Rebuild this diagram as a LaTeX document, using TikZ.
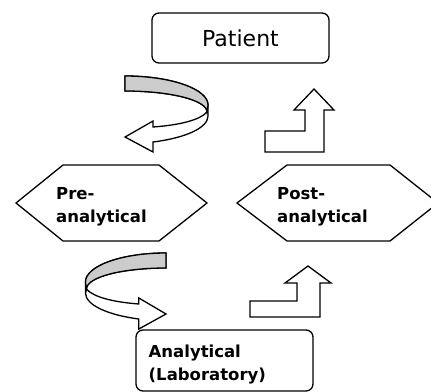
\documentclass[tikz,border=0pt]{standalone}
\usepackage{fontspec}
\newfontfamily\vfont{DejaVu Sans}
\begin{document}
\begin{tikzpicture}[x=1pt,y=-1pt,
  shapeline/.style={draw=black,line width=1.3pt,line join=miter},
  box/.style={shapeline,rounded corners=7pt,fill=white},
  lbl/.style={font={\vfont\bfseries\fontsize{16.5}{23}\selectfont},align=left,anchor=north west,inner sep=0pt},
  curvarrow/.pic={
    \draw[shapeline,fill=white] (0,0) .. controls (46,0) and (83,13) .. (83,29) -- (83,40)
      .. controls (83,52) and (60,62) .. (28,66) -- (28,76) -- (0,61) -- (28,45) -- (28,51)
      .. controls (55,49) and (75,44) .. (82,36)
      .. controls (82,24) and (45,15) .. (0,15) -- cycle;
    \draw[shapeline,fill=black!20] (0,0) .. controls (46,0) and (83,13) .. (83,29) -- (82,36)
      .. controls (82,24) and (45,15) .. (0,15) -- cycle;
  }]
\useasboundingbox (0,0) rectangle (431,391);
% Patient box
\node[box,minimum width=177pt,minimum height=50pt,inner sep=0pt,
  font={\vfont\fontsize{22}{26}\selectfont}] (patient) at (240.5,38) {Patient};
% hexagons
\coordinate (prec) at (111.5,203);
\coordinate (postc) at (337.5,203);
\draw[shapeline] (16,203) -- (63,165) -- (159,165) -- (207,203) -- (159,241) -- (63,241) -- cycle;
\draw[shapeline] (237,203) -- (287,165) -- (390,165) -- (438,203) -- (390,241) -- (287,241) -- cycle;
\node[lbl] (pre) at (56,187.5) {Pre-\\analytical};
\node[lbl] (post) at (277,187.5) {Post-\\analytical};
% Analytical box
\node[box,minimum width=177pt,minimum height=61pt,inner sep=0pt] (lab) at (224.5,360.5) {};
\node[lbl] (labtxt) at (148.5,345) {Analytical\\(Laboratory)};
% step arrows
\draw[shapeline] (265,131) -- (305,131) -- (305,110) -- (294,110) -- (314,89) -- (334,110)
  -- (324,110) -- (324,152) -- (265,152) -- cycle;
\draw[shapeline] (250,301) -- (297,301) -- (297,283) -- (285,283) -- (308,266) -- (331,283)
  -- (320,283) -- (320,317) -- (250,317) -- cycle;
% curved arrows
\pic at (125,76) {curvarrow};
\pic[xscale=-0.97] at (166,253) {curvarrow};
\end{tikzpicture}
\end{document}
